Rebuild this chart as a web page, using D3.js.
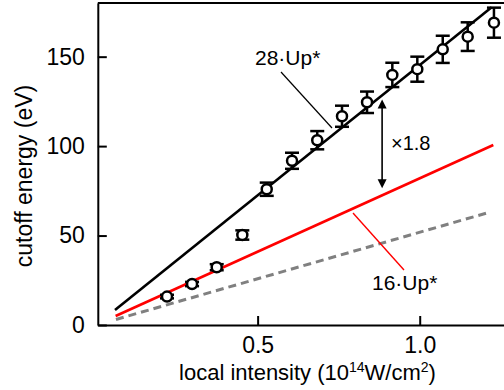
<!DOCTYPE html>
<html><head><meta charset="utf-8">
<script src="https://cdn.jsdelivr.net/npm/d3@7"></script>
<style>body{margin:0;background:#fff}svg{display:block}text{font-family:"Liberation Sans",Arial,sans-serif;fill:#000}</style>
</head><body><svg id="c" width="504" height="390"></svg>
<script>
// data
const intensity = [0.2205,0.2977,0.3738,0.4528,0.5281,0.6061,0.6839,0.7603,0.8375,0.9155,0.9926,1.071,1.148,1.229];
const cutoff    = [15.9,22.9,32.3,50.3,75.9,91.8,103.3,116.7,124.5,139.8,143.0,154.1,161.2,169.0];
const cutoffErr = [1.0,1.2,1.7,2.6,3.7,4.5,5.1,5.9,6.0,6.8,7.0,7.6,8.0,8.4];
const line28Up  = [[0.060,8.4],[1.222,177.6]];
const line16Up  = [[0.062,5.0],[1.227,100.6]];
const lineDash  = [[0.063,3.1],[1.207,62.6]];
const xTicks = [0.5,1.0];
const yTicks = [0,50,100,150];
const ratioArrow = {x:0.884, y0:76.5, y1:126};

const svg = d3.select("#c");
const x = d3.scaleLinear().domain([0.007,1.26]).range([97.8,504]);
const y = d3.scaleLinear().domain([0,180]).range([325,3]);

const line = d3.line().x(d=>x(d[0])).y(d=>y(d[1]));
svg.append("path").attr("d",line(lineDash)).attr("fill","none").attr("stroke","#808080").attr("stroke-width",3).attr("stroke-dasharray","8,5");
svg.append("path").attr("d",line(line16Up)).attr("fill","none").attr("stroke","#ff0000").attr("stroke-width",2.6);
svg.append("path").attr("d",line(line28Up)).attr("fill","none").attr("stroke","#000").attr("stroke-width",2.6);

// error bars
const g = svg.append("g");
intensity.forEach((xi,i)=>{
  const cx=x(xi), yl=y(cutoff[i]-cutoffErr[i]), yh=y(cutoff[i]+cutoffErr[i]);
  g.append("line").attr("x1",cx).attr("x2",cx).attr("y1",yl).attr("y2",yh).attr("stroke","#000").attr("stroke-width",2.5);
  [yl,yh].forEach(yy=>g.append("line").attr("x1",cx-7).attr("x2",cx+7).attr("y1",yy).attr("y2",yy).attr("stroke","#000").attr("stroke-width",2.5));
});
g.selectAll("circle").data(intensity).join("circle")
  .attr("cx",d=>x(d)).attr("cy",(d,i)=>y(cutoff[i])).attr("r",5)
  .attr("fill","#fff").attr("stroke","#000").attr("stroke-width",2.5);

// axes
const xa = svg.append("g").attr("transform","translate(0,325)")
  .call(d3.axisBottom(x).tickValues(xTicks).tickFormat(d3.format(".1f")).tickSizeInner(-9).tickSizeOuter(0).tickPadding(12));
const ya = svg.append("g").attr("transform","translate(97.8,0)")
  .call(d3.axisLeft(y).tickValues(yTicks).tickSizeInner(-9).tickSizeOuter(0).tickPadding(13));
[xa,ya].forEach(a=>{
  a.select(".domain").attr("stroke","#000").attr("stroke-width",2);
  a.selectAll(".tick line").attr("stroke","#000").attr("stroke-width",2);
  a.selectAll("text").attr("font-size",23).attr("font-family","Liberation Sans, Arial, sans-serif").attr("fill","#000");
});
svg.append("line").attr("x1",97.8).attr("x2",504).attr("y1",y(180)).attr("y2",y(180)).attr("stroke","#000").attr("stroke-width",2);

// axis titles
svg.append("text").attr("transform","translate(32,176) rotate(-90)").attr("text-anchor","middle").attr("font-size",23).text("cutoff energy (eV)");
const xt = svg.append("text").attr("x",307.5).attr("y",380).attr("text-anchor","middle").attr("font-size",22);
xt.append("tspan").text("local intensity (10");
xt.append("tspan").attr("font-size",14).attr("dy",-8).text("14");
xt.append("tspan").attr("dy",8).text("W/cm");
xt.append("tspan").attr("font-size",14).attr("dy",-8).text("2");
xt.append("tspan").attr("dy",8).text(")");

// annotations
svg.append("text").attr("x",255).attr("y",65).attr("font-size",21).text("28·Up*");
svg.append("line").attr("x1",281).attr("y1",72).attr("x2",332).attr("y2",128).attr("stroke","#000").attr("stroke-width",1.2);
svg.append("text").attr("x",372).attr("y",290).attr("font-size",21).text("16·Up*");
svg.append("line").attr("x1",353).attr("y1",213).attr("x2",404).attr("y2",270).attr("stroke","#ff0000").attr("stroke-width",1.4);
svg.append("text").attr("x",391).attr("y",149.5).attr("font-size",20).text("×1.8");
const ax = x(ratioArrow.x), ayTop = y(ratioArrow.y1), ayBot = y(ratioArrow.y0);
svg.append("line").attr("x1",ax).attr("x2",ax).attr("y1",ayTop+6).attr("y2",ayBot-6).attr("stroke","#000").attr("stroke-width",1.6);
svg.append("path").attr("d",`M${ax},${ayTop}L${ax-4.5},${ayTop+9}L${ax+4.5},${ayTop+9}Z`).attr("fill","#000");
svg.append("path").attr("d",`M${ax},${ayBot}L${ax-4.5},${ayBot-9}L${ax+4.5},${ayBot-9}Z`).attr("fill","#000");
</script></body></html>
